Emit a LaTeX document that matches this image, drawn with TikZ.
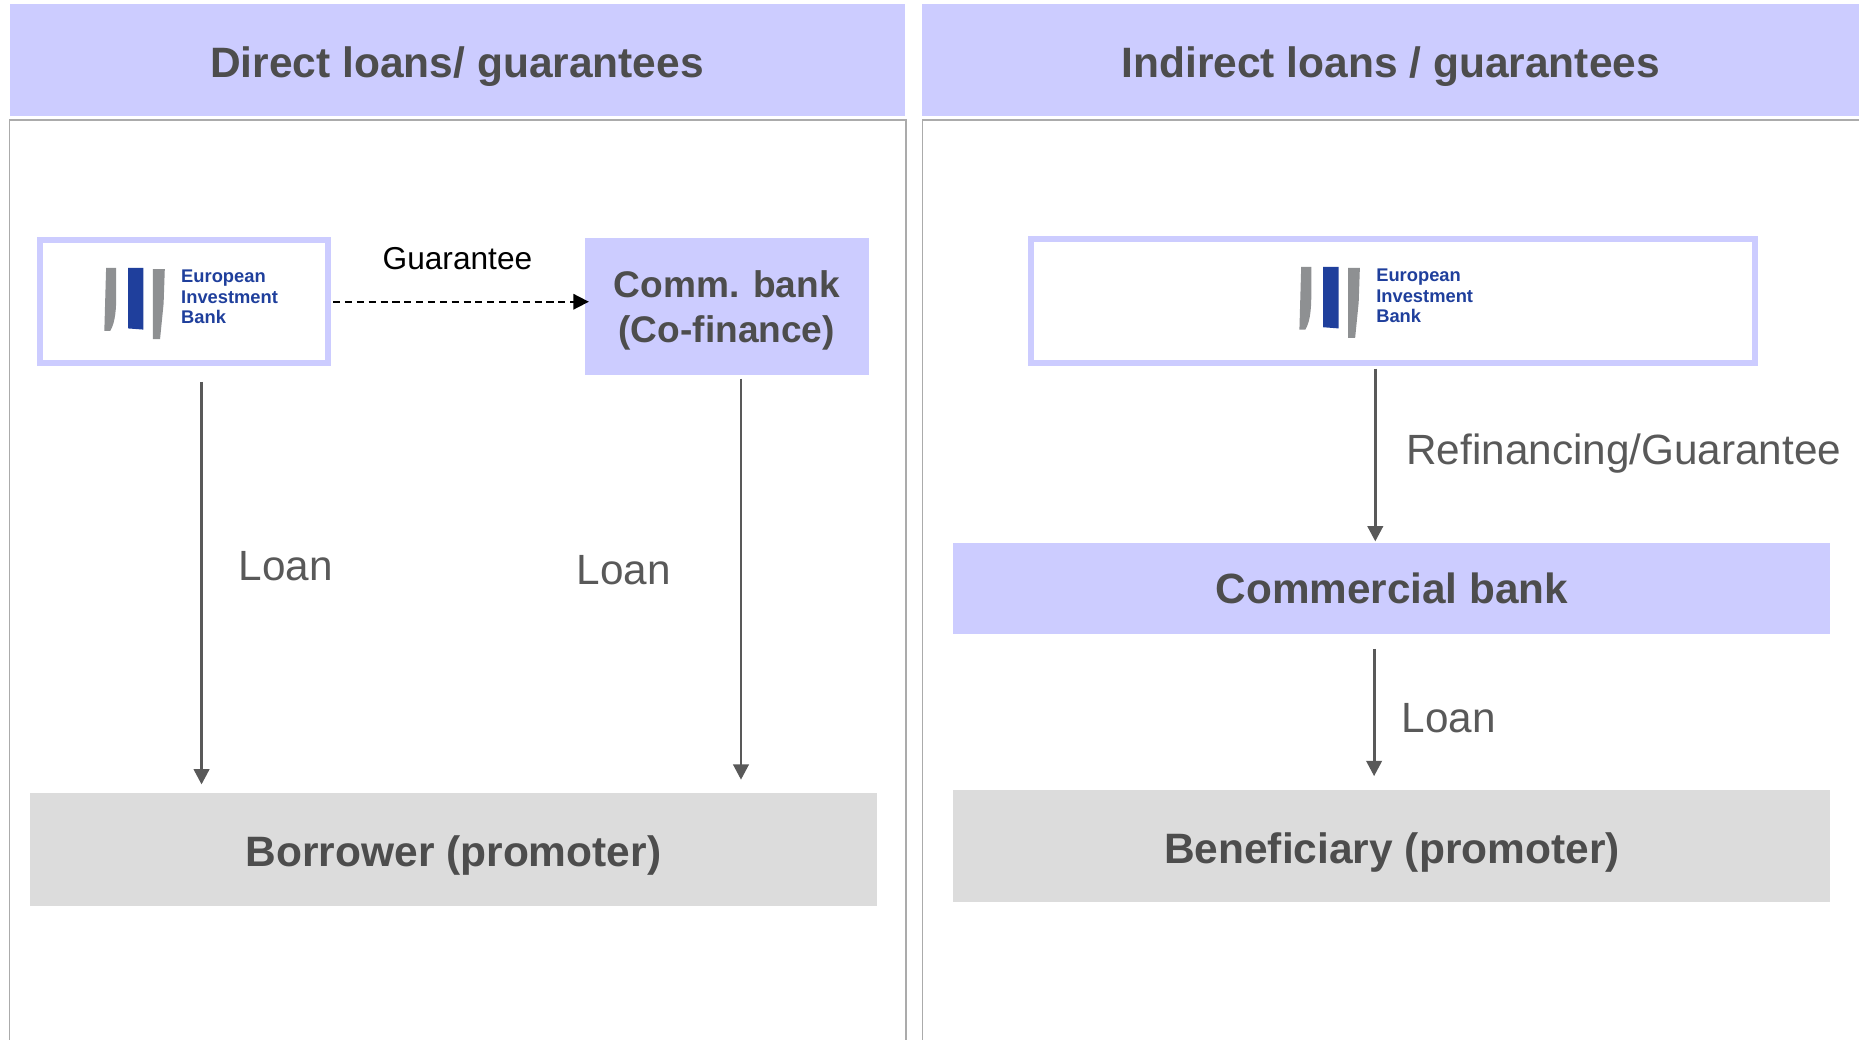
\documentclass[tikz,border=0pt]{standalone}
\usepackage{fontspec}
\setmainfont{Liberation Sans}
\usetikzlibrary{arrows.meta}

\definecolor{lav}{HTML}{CCCCFF}
\definecolor{boxgray}{HTML}{DCDCDC}
\definecolor{txtgray}{HTML}{4D4D4D}
\definecolor{arrgray}{HTML}{595959}
\definecolor{framegray}{HTML}{ABABAB}
\definecolor{eibblue}{HTML}{1F3F9C}
\definecolor{eibgray}{HTML}{8E9092}

\tikzset{
  header/.style={fill=lav, minimum height=1.9cm, text=txtgray,
    text height=16.5pt, text depth=0pt,
    font=\fontsize{20.4}{24}\selectfont\bfseries},
  eibbox/.style={draw=lav, line width=0.1cm, fill=white},
  bankbox/.style={fill=lav, text=txtgray, align=center},
  promoterbox/.style={fill=boxgray, minimum width=14.3cm, minimum height=1.9cm,
    text=txtgray, text height=16.5pt, text depth=0pt,
    font=\fontsize{20.4}{24}\selectfont\bfseries},
  flow/.style={draw=arrgray, line width=0.05cm,
    -{Triangle[width=0.26cm,length=0.26cm]}},
  flowlabel/.style={inner sep=0, text=arrgray, font=\fontsize{20.3}{24}\selectfont},
  eiblogo/.pic={
    \fill[eibgray] (1.5,0) -- (10,0) -- (10,25) .. controls (10,40) and (8,48) .. (5,53) -- (0,53) -- cycle;
    \fill[eibblue] (20,0) -- (33,0) -- (33,52) -- (20,51) -- cycle;
    \fill[eibgray] (41,1) -- (51,1) -- (50,30) -- (47,60) -- (41,60) -- cycle;
    \node[anchor=west, align=left, inner sep=0, text=eibblue,
      font=\fontsize{8.8}{9.9}\selectfont\bfseries] at (64.5,24.5) {European\\Investment\\Bank};
  }
}

\begin{document}
\begin{tikzpicture}[x=0.02cm, y=-0.02cm]
\useasboundingbox (0,0) rectangle (1568,877);
\clip (0,0) rectangle (1568,877);

% Headers
\node [header, minimum width=15.1cm] (hdirect) at (385.5,50.5) {Direct loans/ guarantees};
\node [header, minimum width=15.8cm] (hindirect) at (1173,50.5) {Indirect loans / guarantees};

% Panel frames
\draw [framegray, line width=0.03cm] (8,101) rectangle (764,900);
\draw [framegray, line width=0.03cm] (778,101) rectangle (1600,900);

% Direct side
\node [eibbox, minimum width=4.86cm, minimum height=2.08cm] (eibL) at (155,254.5) {};
\pic at (88,226) {eiblogo};

\node [bankbox, minimum width=4.8cm, minimum height=2.3cm, text depth=0pt,
    font=\fontsize{17.8}{21.5}\selectfont\bfseries] (comm) at (613,258.5) {Comm. bank\\(Co-finance)};

\node [promoterbox] (borrower) at (382.5,716.5) {Borrower (promoter)};

\draw [black, line width=0.03cm, dash pattern=on 0.12cm off 0.08cm,
    -{Triangle[width=0.26cm,length=0.26cm]}, shorten <=0.04cm, shorten >=-0.08cm]
  (eibL.east) -- (eibL.east -| comm.west)
  node [midway, yshift=0.72cm, inner sep=0, font=\fontsize{15.2}{18}\selectfont] {Guarantee};

\draw [flow, shorten <=0.26cm, shorten >=0.14cm]
  ([xshift=0.3cm]eibL.south) -- ([xshift=0.3cm]eibL.south |- borrower.north)
  node [flowlabel, pos=0.468, anchor=west, xshift=0.6cm] {Loan};

\draw [flow, shorten <=0.06cm, shorten >=0.22cm]
  ([xshift=0.24cm]comm.south) -- ([xshift=0.24cm]comm.south |- borrower.north)
  node [flowlabel, pos=0.466, anchor=east, xshift=-1.16cm] {Loan};

% Indirect side
\node [eibbox, minimum width=12.22cm, minimum height=2.1cm] (eibR) at (1175,254) {};
\pic at (1096,225) {eiblogo};

\node [bankbox, minimum width=14.8cm, minimum height=1.54cm,
    font=\fontsize{20.3}{24}\selectfont\bfseries] (combank) at (1174,496.5) {Commercial bank};

\node [promoterbox, minimum width=14.8cm] (benef) at (1174,713.5) {Beneficiary (promoter)};

\draw [flow, shorten <=0.04cm, shorten >=0.02cm]
  ([xshift=-0.3cm]eibR.south) -- ([xshift=-0.3cm]eibR.south |- combank.north)
  node [flowlabel, pos=0.493, anchor=west, xshift=0.5cm] {Refinancing/Guarantee};

\draw [flow, shorten <=0.24cm, shorten >=0.22cm]
  ([xshift=-0.3cm]combank.south) -- ([xshift=-0.3cm]combank.south |- benef.north)
  node [flowlabel, pos=0.537, anchor=west, xshift=0.44cm] {Loan};

\end{tikzpicture}
\end{document}
